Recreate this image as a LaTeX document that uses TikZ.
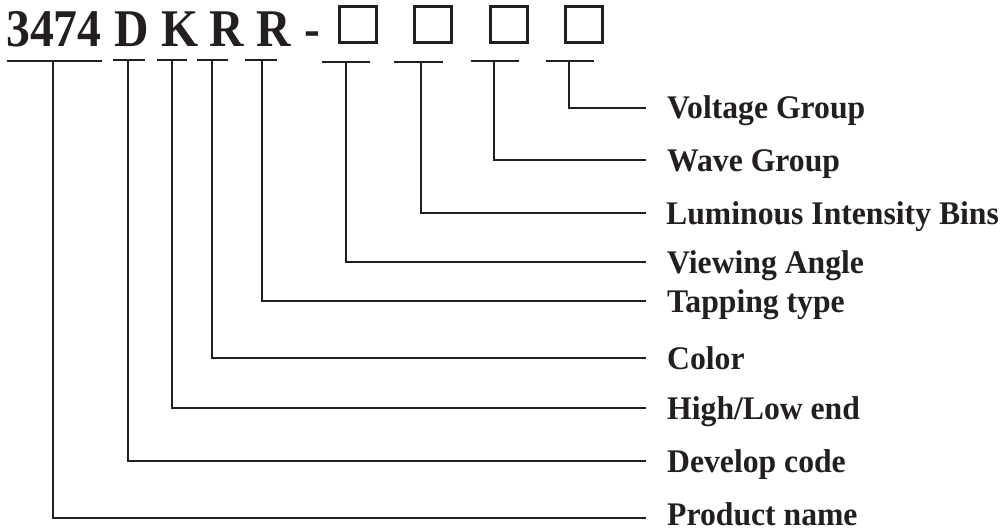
\documentclass[tikz,border=0pt]{standalone}
\usepackage{fontspec}
\setmainfont{Liberation Serif}
\newfontfamily\codefont[FakeStretch=0.9]{Liberation Serif}
\newfontfamily\labelfont[FakeStretch=0.96]{Liberation Serif}
\definecolor{ink}{RGB}{35,31,32}
\begin{document}
\begin{tikzpicture}[x=1pt,y=-1pt,
  titlech/.style={inner sep=0pt, anchor=base west, text=ink, font=\codefont\fontsize{53}{56}\selectfont\bfseries},
  codebox/.style={draw=ink, line width=3pt, minimum width=37pt, minimum height=36pt, inner sep=0pt},
  lab/.style={inner sep=0pt, anchor=base west, text=ink, font=\labelfont\fontsize{33}{36}\selectfont\bfseries},
  uline/.style={draw=ink, line width=2pt},
  conn/.style={draw=ink, line width=2pt}]
\useasboundingbox (0,0) rectangle (1003,532);
% code characters
\node[titlech] (c3474) at (6,46.5) {3474};
\node[titlech] (cD) at (114,46.5) {D};
\node[titlech] (cK) at (161,46.5) {K};
\node[titlech] (cR1) at (209,46.5) {R};
\node[titlech] (cR2) at (256,46.5) {R};
\node[titlech] (cdash) at (304,46.5) {-};
\node[codebox] (b1) at (358,24.5) {};
\node[codebox] (b2) at (433,24.5) {};
\node[codebox] (b3) at (509,24.5) {};
\node[codebox] (b4) at (584,24.5) {};
% underlines
\draw[uline] (7,61) -- (102,61);
\draw[uline] (113,60) -- (145,60);
\draw[uline] (157,60) -- (187,60);
\draw[uline] (197,60) -- (228,60);
\draw[uline] (245,60) -- (277,60);
\draw[uline] (322,62) -- (370,62);
\draw[uline] (394,62) -- (443,62);
\draw[uline] (471,61) -- (519,61);
\draw[uline] (546,61) -- (594,61);
% stem tops
\coordinate (sP) at (53,61);
\coordinate (sD) at (128,60);
\coordinate (sH) at (172,60);
\coordinate (sC) at (212,60);
\coordinate (sT) at (262,60);
\coordinate (sVi) at (346,62);
\coordinate (sL) at (421,62);
\coordinate (sW) at (494,61);
\coordinate (sVo) at (569,61);
% connector ends
\coordinate (eVo) at (646,108);
\coordinate (eW) at (646,160);
\coordinate (eL) at (646,213);
\coordinate (eVi) at (646,262);
\coordinate (eT) at (646,301);
\coordinate (eC) at (646,358);
\coordinate (eH) at (646,408);
\coordinate (eD) at (646,461);
\coordinate (eP) at (646,518);
% labels
\node[lab] (lVo) at (667,119) {Voltage Group};
\node[lab] (lW) at (667,171) {Wave Group};
\node[lab] (lL) at (666,224) {Luminous Intensity Bins};
\node[lab] (lVi) at (667,273) {Viewing Angle};
\node[lab] (lT) at (667,312) {Tapping type};
\node[lab] (lC) at (667,369) {Color};
\node[lab] (lH) at (667,419) {High/Low end};
\node[lab] (lD) at (667,472) {Develop code};
\node[lab] (lP) at (667,525.5) {Product name};
% connectors
\draw[conn] (sVo) |- (eVo);
\draw[conn] (sW) |- (eW);
\draw[conn] (sL) |- (eL);
\draw[conn] (sVi) |- (eVi);
\draw[conn] (sT) |- (eT);
\draw[conn] (sC) |- (eC);
\draw[conn] (sH) |- (eH);
\draw[conn] (sD) |- (eD);
\draw[conn] (sP) |- (eP);
\end{tikzpicture}
\end{document}
